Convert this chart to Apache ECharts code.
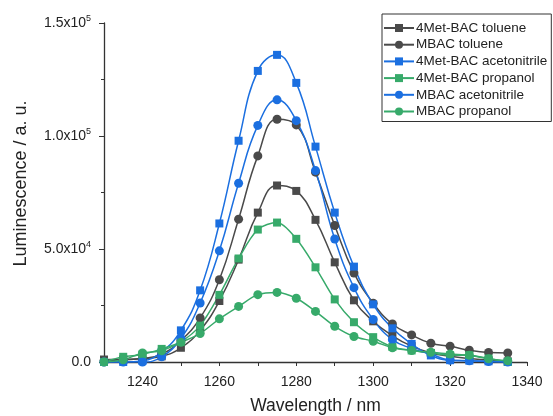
<!DOCTYPE html>
<html>
<head>
<meta charset="utf-8">
<script src="https://cdn.jsdelivr.net/npm/echarts@6/dist/echarts.min.js"></script>
<style>
  html, body { margin: 0; padding: 0; background: #fff; }
  #chart { width: 553px; height: 416px; }
</style>
</head>
<body>
<div id="chart"></div>
<script>
// wavelength (nm)
const wavelengths = [1230, 1235, 1240, 1245, 1250, 1255, 1260, 1265, 1270, 1275, 1280,
  1285, 1290, 1295, 1300, 1305, 1310, 1315, 1320, 1325, 1330, 1335];

// luminescence (a. u.)
const metBacToluene = [1100, 1200, 1500, 2500, 6300, 14000, 27000, 45300, 66100, 78100, 75700,
  62900, 44100, 27300, 18000, 11600, 7000, 4000, 2500, 1500, 800, 300];
const mbacToluene = [500, 1000, 1500, 3500, 9500, 19500, 36400, 63200, 91200, 107400, 104900,
  84000, 60400, 39400, 26000, 16800, 12000, 8300, 7000, 5200, 4200, 4000];
const metBacAcetonitrile = [0, 0, 500, 4500, 14000, 31700, 61300, 97900, 128800, 135900, 123500,
  95300, 66100, 42200, 25500, 14900, 8000, 2900, 800, 600, 300, 0];
const metBacPropanol = [0, 2300, 3300, 5800, 9000, 16100, 29700, 45800, 58600, 61700, 54500,
  41900, 27700, 17600, 11000, 6700, 5100, 4000, 3000, 3000, 1500, 0];
const mbacAcetonitrile = [0, 0, 0, 2300, 10500, 26100, 49200, 79100, 104700, 116000, 106800,
  84700, 54400, 32900, 18800, 9900, 6000, 3500, 800, 500, 200, 0];
const mbacPropanol = [0, 1000, 4000, 5000, 8700, 12600, 19100, 24600, 29800, 30800, 28200,
  22400, 15800, 11300, 9200, 6300, 5100, 4300, 3500, 3000, 1400, 500];

const xLabels = [1240, 1260, 1280, 1300, 1320, 1340];

const gray = '#4a4a4a';
const blue = '#1b6fe0';
const green = '#37aa6a';

function pairs(ys) {
  return wavelengths.map((x, i) => [x, ys[i]]);
}

function makeSeries(name, ys, color, symbol, size, smooth) {
  return {
    name: name,
    type: 'line',
    data: pairs(ys),
    smooth: smooth,
    symbol: symbol,
    symbolSize: size,
    showAllSymbol: true,
    lineStyle: { color: color, width: 1.5 },
    itemStyle: { color: color, borderWidth: 0 },
    emphasis: { disabled: true }
  };
}

const chart = echarts.init(document.getElementById('chart'));

const axisColor = '#333';

chart.setOption({
  animation: false,
  textStyle: { fontFamily: 'Liberation Sans, Arial, sans-serif' },
  grid: { left: 104, right: 26, top: 23, bottom: 54, outerBoundsMode: 'none' },
  legend: {
    orient: 'vertical',
    left: 382,
    top: 14,
    itemWidth: 30,
    itemHeight: 10,
    itemGap: 2.7,
    padding: [7, 4, 3, 1],
    borderColor: '#333',
    borderWidth: 1,
    textStyle: { fontSize: 13.5, lineHeight: 14, color: '#222', padding: [0, 0, 0, -3] },
    data: ['4Met-BAC toluene', 'MBAC toluene', '4Met-BAC acetonitrile',
      '4Met-BAC propanol', 'MBAC acetonitrile', 'MBAC propanol']
  },
  xAxis: {
    type: 'value',
    min: 1230,
    max: 1340,
    interval: 10,
    name: 'Wavelength / nm',
    nameLocation: 'middle',
    nameGap: 35,
    nameTextStyle: { fontSize: 17.5, color: '#222' },
    splitLine: { show: false },
    axisLine: { show: true, lineStyle: { color: axisColor, width: 1.3 } },
    axisTick: { show: true, length: 4, lineStyle: { color: axisColor } },
    axisLabel: {
      fontSize: 14,
      color: '#222',
      margin: 13,
      showMinLabel: true,
      formatter: v => (xLabels.includes(v) ? String(v) : '')
    }
  },
  yAxis: {
    type: 'value',
    min: 0,
    max: 150000,
    interval: 50000,
    name: 'Luminescence / a. u.',
    nameLocation: 'middle',
    nameGap: 74,
    nameTextStyle: { fontSize: 18, color: '#222', padding: [0, 0, 0, 18] },
    splitLine: { show: false },
    axisLine: { show: true, lineStyle: { color: axisColor, width: 1.3 } },
    axisTick: { show: true, length: 5, lineStyle: { color: axisColor } },
    minorTick: { show: true, splitNumber: 2, length: 3, lineStyle: { color: axisColor } },
    minorSplitLine: { show: false },
    axisLabel: {
      margin: 13,
      color: '#222',
      formatter: v => {
        if (v === 0) return '{b|0.0}';
        const e = Math.floor(Math.log10(v));
        const m = (v / Math.pow(10, e)).toFixed(1);
        return '{b|' + m + 'x10}{s|' + e + '}';
      },
      rich: {
        b: { fontSize: 14, color: '#222' },
        s: { fontSize: 9, color: '#222', padding: [0, 0, 9, 0] }
      }
    }
  },
  series: [
    makeSeries('4Met-BAC toluene', metBacToluene, gray, 'rect', 8, 0.45),
    makeSeries('MBAC toluene', mbacToluene, gray, 'circle', 9, 0.45),
    makeSeries('4Met-BAC acetonitrile', metBacAcetonitrile, blue, 'rect', 8, 0.45),
    makeSeries('4Met-BAC propanol', metBacPropanol, green, 'rect', 8, 0.3),
    makeSeries('MBAC acetonitrile', mbacAcetonitrile, blue, 'circle', 9, 0.45),
    makeSeries('MBAC propanol', mbacPropanol, green, 'circle', 9, 0.3)
  ]
});
</script>
</body>
</html>
